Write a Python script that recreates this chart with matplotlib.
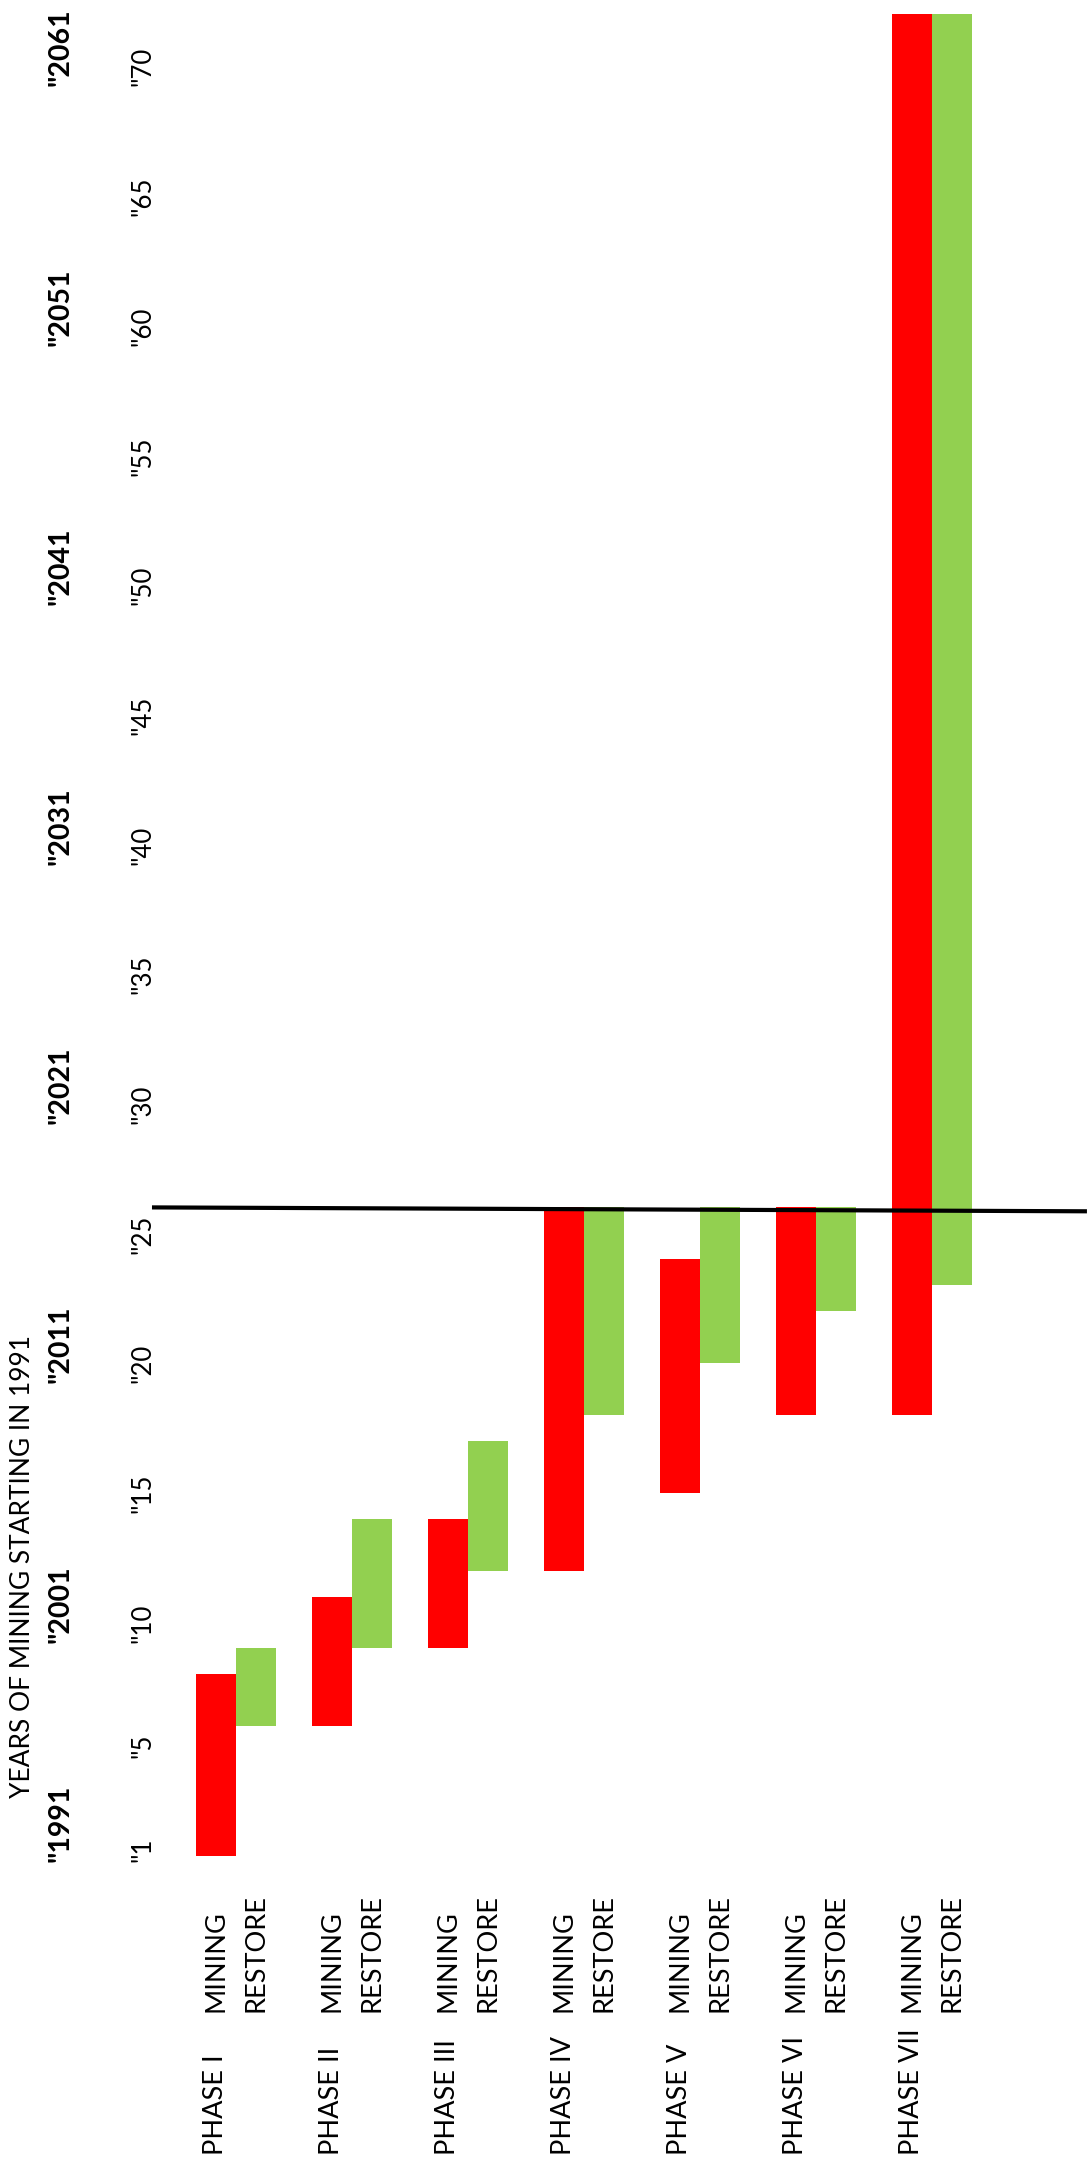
import numpy as np
import matplotlib
matplotlib.use('Agg')
import matplotlib.pyplot as plt
import matplotlib.transforms as mtransforms

plt.rcParams['font.family'] = ['Lato', 'DejaVu Sans']

# data (years since mining started in 1991)
phases = ['PHASE I', 'PHASE II', 'PHASE III', 'PHASE IV', 'PHASE V', 'PHASE VI', 'PHASE VII']
mining_start = [0, 5, 8, 11, 14, 17, 17]
mining_end = [7, 10, 13, 25, 23, 25, 71]
restore_start = [5, 8, 11, 17, 19, 21, 22]
restore_end = [8, 13, 16, 25, 25, 25, 71]

tick_years = [1, 5, 10, 15, 20, 25, 30, 35, 40, 45, 50, 55, 60, 65, 70]
tick_labels = ['"%d' % t for t in tick_years]
cal_ticks = [1, 10, 20, 30, 40, 50, 60, 70]
cal_labels = ['"1991', '"2001', '"2011', '"2021', '"2031', '"2041', '"2051', '"2061']
today_line = [25.0, 24.85]   # the hand drawn "now" line, slightly tilted

RED = '#FF0000'
GREEN = '#92D050'

W, H = 1091, 2178
fig = plt.figure(figsize=(W / 100, H / 100), dpi=100)
ax = fig.add_axes([177.5 / W, (H - 1856) / H, 812 / W, (1856 - 14) / H])

x = np.arange(len(phases))
bw = 40 / 116.0
ms = np.array(mining_start)
rs = np.array(restore_start)
ax.bar(x - bw / 2, np.array(mining_end) - ms, bw, bottom=ms, color=RED, linewidth=0)
ax.bar(x + bw / 2, np.array(restore_end) - rs, bw, bottom=rs, color=GREEN, linewidth=0)

ax.set_xlim(-0.5, len(phases) - 0.5)
ax.set_ylim(0, 71)
for s in ax.spines.values():
    s.set_visible(False)
ax.set_xticks([])

ax.set_yticks(tick_years, tick_labels)
ax.tick_params(axis='y', length=0, pad=16, labelsize=18.5)
off = mtransforms.ScaledTranslation(0, -7 / 100, fig.dpi_scale_trans)
for lab in ax.get_yticklabels():
    lab.set_rotation(90)
    lab.set_va('top')
    lab.set_transform(lab.get_transform() + off)

# now line across the chart
ax.plot([-0.72, 7.34], today_line, color='black', lw=3, clip_on=False, solid_capstyle='butt')

# category labels
tr = mtransforms.blended_transform_factory(ax.transData, fig.transFigure)
for i, p in enumerate(phases):
    ax.text(x[i] - bw / 2, (H - 2012) / H, 'MINING', transform=tr, rotation=90,
            ha='center', va='bottom', fontsize=19.5)
    ax.text(x[i] + bw / 2, (H - 2012) / H, 'RESTORE', transform=tr, rotation=90,
            ha='center', va='bottom', fontsize=19.5)
    ax.text(x[i] - bw / 2, (H - 2155) / H, p, transform=tr, rotation=90,
            ha='center', va='bottom', fontsize=19.5)

fig.text(23 / W, (H - 1798) / H, 'YEARS OF MINING STARTING IN 1991', rotation=90,
         ha='center', va='bottom', fontsize=19)

# calendar years, starting where the matching tick label starts
fig.canvas.draw()
r = fig.canvas.get_renderer()
labs = dict(zip(tick_years, ax.get_yticklabels()))
for t, s in zip(cal_ticks, cal_labels):
    bb = labs[t].get_window_extent(r)
    fig.text(61 / W, bb.y0 / H, s, rotation=90, ha='center', va='bottom',
             fontsize=20.5, fontweight='bold')

fig.savefig('out.png', dpi=100)
